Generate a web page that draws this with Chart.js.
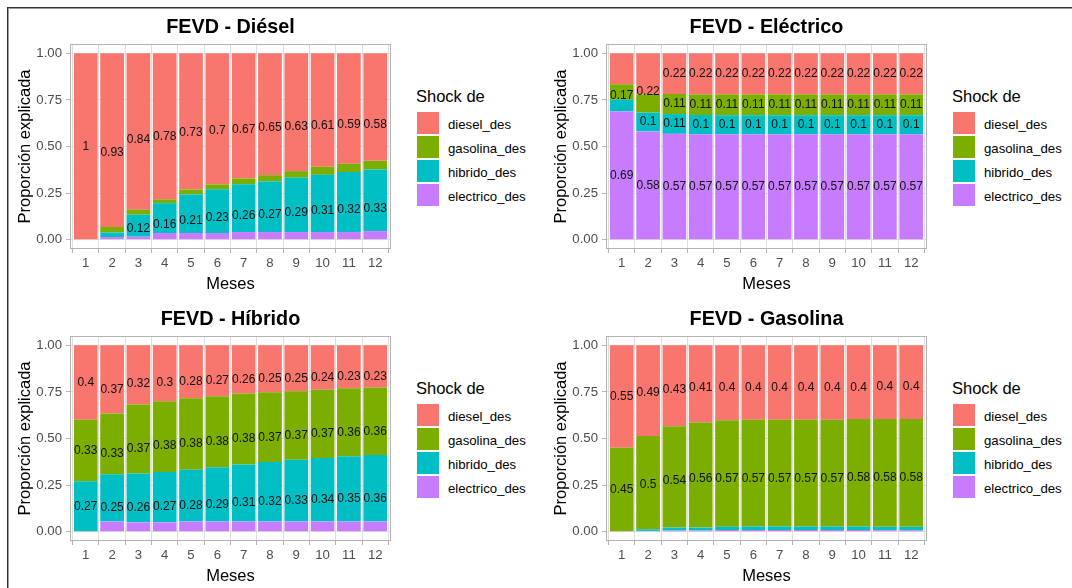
<!DOCTYPE html>
<html><head><meta charset="utf-8">
<script src="https://cdn.jsdelivr.net/npm/chart.js@4.4.1/dist/chart.umd.min.js"></script>
<style>
html,body{margin:0;padding:0;background:#fff;width:1072px;height:588px;overflow:hidden;font-family:"Liberation Sans",Arial,sans-serif;}
#frame{position:absolute;left:7px;top:7px;width:1200px;height:700px;border-top:1px solid #333;border-left:1px solid #333;box-shadow:inset 1px 1px 0 #9a9a9a;}
canvas{position:absolute;}
.lg-title{position:absolute;font-size:16.5px;color:#000;line-height:20px;white-space:nowrap;}
.lg-key{position:absolute;width:22px;height:22px;}
.lg-lab{position:absolute;font-size:13.2px;color:#000;line-height:16px;white-space:nowrap;}
</style></head><body>
<div id="frame"></div>
<script>
// ---------- categories / ticks ----------
const meses = ['1','2','3','4','5','6','7','8','9','10','11','12'];
const yMajor = [0, 0.25, 0.5, 0.75, 1];
const yMajorLabels = ['0.00','0.25','0.50','0.75','1.00'];
const yMinor = [0.125, 0.375, 0.625, 0.875];
const panelTitles = ['FEVD - Diésel','FEVD - Eléctrico','FEVD - Híbrido','FEVD - Gasolina'];
const xTitle = 'Meses';
const yTitle = 'Proporción explicada';
const legendTitle = 'Shock de';
// stack order bottom -> top
const seriesNames = ['electrico_des','hibrido_des','gasolina_des','diesel_des'];
const seriesColors = ['#C77CFF','#00BFC4','#7CAE00','#F8766D'];
const labelMin = 0.1;

// ---------- FEVD - Diésel ----------
const dsl_electrico = [0, 0.014, 0.016, 0.036, 0.036, 0.036, 0.041, 0.041, 0.041, 0.041, 0.041, 0.046];
const dsl_hibrido   = [0, 0.025, 0.118, 0.16, 0.207, 0.234, 0.256, 0.273, 0.292, 0.307, 0.322, 0.331];
const dsl_gasolina  = [0, 0.029, 0.027, 0.02, 0.027, 0.027, 0.032, 0.032, 0.035, 0.043, 0.045, 0.046];
const dsl_diesel    = [1, 0.932, 0.839, 0.784, 0.73, 0.703, 0.671, 0.654, 0.632, 0.609, 0.592, 0.577];

// ---------- FEVD - Eléctrico ----------
const elc_electrico = [0.688, 0.581, 0.568, 0.566, 0.566, 0.566, 0.566, 0.566, 0.566, 0.566, 0.566, 0.566];
const elc_hibrido   = [0.063, 0.101, 0.106, 0.103, 0.102, 0.102, 0.102, 0.102, 0.102, 0.102, 0.102, 0.102];
const elc_gasolina  = [0.083, 0.098, 0.108, 0.111, 0.112, 0.112, 0.112, 0.112, 0.112, 0.112, 0.112, 0.112];
const elc_diesel    = [0.166, 0.22, 0.218, 0.22, 0.22, 0.22, 0.22, 0.22, 0.22, 0.22, 0.22, 0.22];

// ---------- FEVD - Híbrido ----------
const hib_electrico = [0, 0.054, 0.05, 0.05, 0.054, 0.054, 0.054, 0.054, 0.054, 0.054, 0.054, 0.054];
const hib_hibrido   = [0.27, 0.254, 0.262, 0.27, 0.278, 0.292, 0.306, 0.32, 0.332, 0.342, 0.351, 0.358];
const hib_gasolina  = [0.33, 0.326, 0.371, 0.38, 0.384, 0.381, 0.382, 0.374, 0.368, 0.366, 0.364, 0.362];
const hib_diesel    = [0.4, 0.366, 0.317, 0.3, 0.284, 0.273, 0.258, 0.252, 0.246, 0.238, 0.231, 0.226];

// ---------- FEVD - Gasolina ----------
const gas_electrico = [0, 0.004, 0.006, 0.006, 0.009, 0.009, 0.009, 0.009, 0.009, 0.009, 0.008, 0.008];
const gas_hibrido   = [0, 0.009, 0.016, 0.016, 0.018, 0.019, 0.019, 0.019, 0.019, 0.019, 0.018, 0.018];
const gas_gasolina  = [0.45, 0.5, 0.544, 0.564, 0.571, 0.573, 0.573, 0.573, 0.573, 0.576, 0.578, 0.578];
const gas_diesel    = [0.55, 0.487, 0.434, 0.414, 0.402, 0.399, 0.399, 0.399, 0.399, 0.396, 0.396, 0.396];

const panelData = [
  [dsl_electrico, dsl_hibrido, dsl_gasolina, dsl_diesel],
  [elc_electrico, elc_hibrido, elc_gasolina, elc_diesel],
  [hib_electrico, hib_hibrido, hib_gasolina, hib_diesel],
  [gas_electrico, gas_hibrido, gas_gasolina, gas_diesel]
];
const panelPos = [{left:0, top:0}, {left:536, top:0}, {left:0, top:292}, {left:536, top:292}];

const FONT = '"Liberation Sans", Arial, sans-serif';
Chart.defaults.font.family = FONT;

const fmt = v => String(Math.round(v * 100) / 100);
const isMajor = v => yMajor.some(m => Math.abs(m - v) < 1e-9);

const borderPlugin = {
  id: 'panelBorder',
  afterDatasetsDraw(chart) {
    const a = chart.chartArea, ctx = chart.ctx;
    ctx.save();
    ctx.strokeStyle = '#B3B3B3';
    ctx.lineWidth = 1;
    ctx.strokeRect(Math.round(a.left) + 0.5, Math.round(a.top) + 0.5,
                   Math.round(a.right - a.left) - 1, Math.round(a.bottom - a.top) - 1);
    ctx.restore();
  }
};

const labelPlugin = {
  id: 'segLabels',
  afterDatasetsDraw(chart) {
    const ctx = chart.ctx, xs = chart.scales.x, ys = chart.scales.y;
    ctx.save();
    ctx.font = '12px ' + FONT;
    ctx.fillStyle = '#111';
    ctx.textAlign = 'center';
    ctx.textBaseline = 'middle';
    meses.forEach((m, i) => {
      let cum = 0;
      chart.data.datasets.forEach(ds => {
        const v = ds.data[i].y;
        if (v >= labelMin) {
          const yc = cum + v / 2;
          cum += v;
          ctx.fillText(fmt(v), xs.getPixelForValue(i + 1), ys.getPixelForValue(yc));
        }
      });
    });
    ctx.restore();
  }
};

function makeLegend(pos) {
  const baseX = pos.left + 416, baseY = pos.top;
  const t = document.createElement('div');
  t.className = 'lg-title'; t.textContent = legendTitle;
  t.style.left = baseX + 'px'; t.style.top = (baseY + 95.5 - 10) + 'px';
  document.body.appendChild(t);
  const order = [3, 2, 1, 0];
  order.forEach((k, r) => {
    const top = baseY + 112 + r * 24;
    const key = document.createElement('div');
    key.className = 'lg-key';
    key.style.left = (baseX + 0.5) + 'px'; key.style.top = top + 'px';
    key.style.background = seriesColors[k];
    document.body.appendChild(key);
    const lab = document.createElement('div');
    lab.className = 'lg-lab'; lab.textContent = seriesNames[k];
    lab.style.left = (baseX + 32) + 'px'; lab.style.top = (top + 13 - 8) + 'px';
    document.body.appendChild(lab);
  });
}

function makePanel(idx) {
  const pos = panelPos[idx];
  const cv = document.createElement('canvas');
  cv.width = 400; cv.height = 294;
  cv.style.left = pos.left + 'px'; cv.style.top = pos.top + 'px';
  cv.style.width = '400px'; cv.style.height = '294px';
  document.body.appendChild(cv);
  const datasets = seriesNames.map((s, k) => ({
    label: s,
    data: panelData[idx][k].map((v, i) => ({x: i + 1, y: v})),
    backgroundColor: seriesColors[k],
    borderWidth: 0,
    barPercentage: 0.9,
    categoryPercentage: 1
  }));
  new Chart(cv, {
    type: 'bar',
    data: {datasets},
    plugins: [borderPlugin, labelPlugin],
    options: {
      responsive: false,
      animation: false,
      devicePixelRatio: 1,
      events: [],
      layout: {padding: {left: 0, right: 9, top: 0, bottom: 0}},
      plugins: {
        legend: {display: false},
        tooltip: {enabled: false},
        title: {
          display: true, text: panelTitles[idx], fullSize: false,
          color: '#000', font: {size: 19.8, weight: 'bold', family: FONT},
          padding: {top: 16, bottom: 4.24}
        }
      },
      scales: {
        x: {
          type: 'linear', min: 0.4, max: 12.6, stacked: true, offset: false,
          afterBuildTicks: s => { s.ticks = meses.map((m, i) => ({value: i + 1})); },
          afterFit: s => { s.height = 45; },
          ticks: {
            callback: (v, i) => meses[i], autoSkip: false, maxRotation: 0,
            color: '#4D4D4D', font: {size: 13.2, family: FONT}, padding: 2
          },
          grid: {color: '#DEDEDE', lineWidth: 1, drawTicks: true, tickLength: 4, tickColor: '#B3B3B3', tickWidth: 1},
          border: {display: false},
          title: {display: true, text: xTitle, color: '#000', font: {size: 16.5, family: FONT}, padding: {top: 0, bottom: 0}}
        },
        y: {
          type: 'linear', min: -0.05, max: 1.05, stacked: true,
          afterBuildTicks: s => { s.ticks = yMajor.concat(yMinor).sort((a, b) => a - b).map(v => ({value: v})); },
          afterFit: s => { s.width = 70; },
          ticks: {
            callback: v => { const j = yMajor.findIndex(m => Math.abs(m - v) < 1e-9); return j >= 0 ? yMajorLabels[j] : ''; },
            autoSkip: false, color: '#4D4D4D', font: {size: 13.2, family: FONT}, padding: 4
          },
          grid: {
            color: c => (c.tick && isMajor(c.tick.value)) ? '#DEDEDE' : '#E6E6E6',
            lineWidth: c => (c.tick && isMajor(c.tick.value)) ? 1 : 0.6,
            drawTicks: true, tickLength: 4, tickWidth: 1,
            tickColor: c => (c.tick && isMajor(c.tick.value)) ? '#B3B3B3' : 'rgba(0,0,0,0)'
          },
          border: {display: false},
          title: {display: true, text: yTitle, color: '#000', font: {size: 16.5, family: FONT}, padding: {top: 16, bottom: 0}}
        }
      }
    }
  });
  makeLegend(pos);
}

for (let i = 0; i < 4; i++) makePanel(i);
</script>
</body></html>
